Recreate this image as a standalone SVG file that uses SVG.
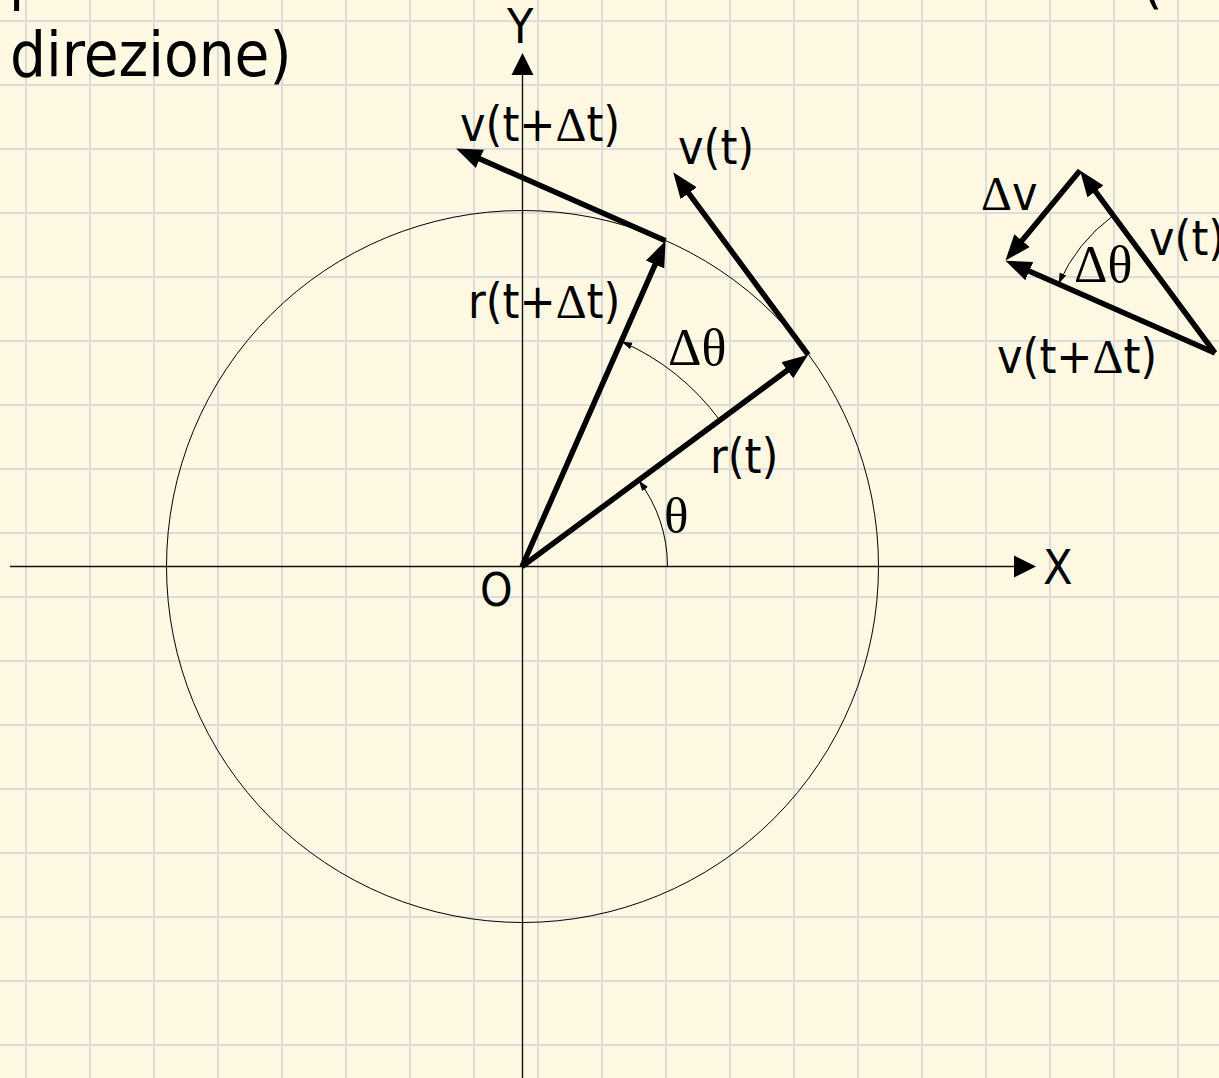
<svg xmlns="http://www.w3.org/2000/svg" width="1219" height="1078" viewBox="0 0 1219 1078">
<defs>
<style>
.t{font-family:"DejaVu Sans Condensed","DejaVu Sans",sans-serif;font-stretch:condensed;font-size:48px;fill:#000}
.s{font-family:"Liberation Serif",serif;font-stretch:normal}
.vec{stroke:#000;stroke-width:5.5;fill:none;marker-end:url(#head)}
.thin{stroke:#000;stroke-width:1;fill:none;marker-end:url(#small)}
.axis{stroke:#111;stroke-width:1.4;fill:none;marker-end:url(#axhead)}
</style>
<pattern id="grid" patternUnits="userSpaceOnUse" x="25" y="20" width="64" height="64">
<rect x="0" y="0" width="2" height="64" fill="#dcdcdc"/>
<rect x="0" y="0" width="64" height="2" fill="#dcdcdc"/>
</pattern>
<marker id="head" markerUnits="userSpaceOnUse" viewBox="0 -11 27 22" markerWidth="27" markerHeight="22" refX="6" refY="0" orient="auto">
<path d="M0,-10 L26,0 L0,10 Z" fill="#000"/>
</marker>
<marker id="small" markerUnits="userSpaceOnUse" viewBox="0 -4 12 8" markerWidth="12" markerHeight="8" refX="11" refY="0" orient="auto">
<path d="M0,-3.5 L11,0 L0,3.5 Z" fill="#000"/>
</marker>
<marker id="axhead" markerUnits="userSpaceOnUse" viewBox="0 -12 23 24" markerWidth="23" markerHeight="24" refX="0" refY="0" orient="auto">
<path d="M0,-11 L22,0 L0,11 Z" fill="#000"/>
</marker>
</defs>
<rect x="0" y="0" width="1219" height="1078" fill="#fff8e3"/>
<rect x="0" y="0" width="1219" height="1078" fill="url(#grid)"/>

<g id="title">
<text class="t" x="9" y="-2" style="font-size:62px">p</text>
<text class="t" x="1141" y="1" style="font-size:62px">(</text>
<text class="t" x="10" y="76" style="font-size:63px">direzione)</text>
</g>

<g id="circle">
<circle cx="522.5" cy="566.5" r="356" fill="none" stroke="#000" stroke-width="1"/>
</g>

<g id="connectors">
<line class="axis" x1="10" y1="566.5" x2="1014" y2="566.5"/>
<line class="axis" x1="522.5" y1="1078" x2="522.5" y2="75"/>
<line class="vec" x1="522" y1="566.5" x2="792.1" y2="366.7"/>
<line class="vec" x1="522" y1="566.5" x2="657.5" y2="259.1"/>
<line class="vec" x1="808.2" y1="354.8" x2="685.1" y2="188.4"/>
<line class="vec" x1="665.6" y1="240.8" x2="474.4" y2="156.5"/>
<line class="vec" x1="1215" y1="353" x2="1091.9" y2="186.6"/>
<line class="vec" x1="1215" y1="353" x2="1023.8" y2="268.7"/>
<line class="vec" x1="1080" y1="170.5" x2="1018.2" y2="245.2"/>
<path class="thin" d="M667.5,566.5 A145,145 0 0,0 638.6,480.3"/>
<path class="thin" d="M719.8,420.2 A246,246 0 0,0 621.3,341.4"/>
<path class="thin" d="M1113.3,215.5 A171,171 0 0,0 1058.5,284"/>
</g>

<g id="labels">
<text class="t" x="507" y="43">Y</text>
<text class="t" x="1043" y="584">X</text>
<text class="t" x="480" y="606" style="font-size:46px">O</text>
<text class="t" x="460" y="141">v(t+<tspan class="s">Δ</tspan>t)</text>
<text class="t" x="678" y="164">v(t)</text>
<text class="t" x="468" y="318">r(t+<tspan class="s">Δ</tspan>t)</text>
<text class="t s" x="668" y="365" style="font-size:52px">Δθ</text>
<text class="t" x="710" y="473">r(t)</text>
<text class="t s" x="664" y="533" style="font-size:51px">θ</text>
<text class="t" x="981" y="210"><tspan class="s">Δ</tspan>v</text>
<text class="t" x="1149" y="255">v(t)</text>
<text class="t s" x="1074" y="282" style="font-size:52px">Δθ</text>
<text class="t" x="997" y="373">v(t+<tspan class="s">Δ</tspan>t)</text>
</g>
</svg>
